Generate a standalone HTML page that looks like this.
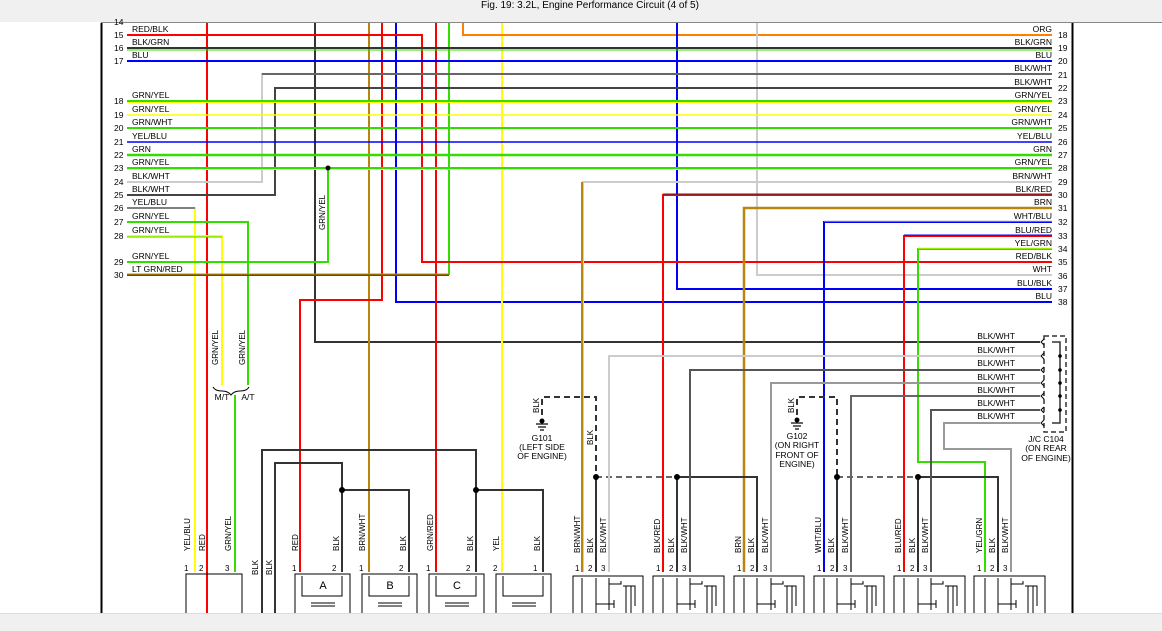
<!DOCTYPE html>
<html><head><meta charset="utf-8"><style>
html,body{margin:0;padding:0;background:#fff;}
svg{display:block;font-family:"Liberation Sans",sans-serif;}
</style></head><body>
<svg width="1162" height="631" viewBox="0 0 1162 631" xmlns="http://www.w3.org/2000/svg">
<rect x="0" y="0" width="1162" height="631" fill="#fff"/>
<rect x="0" y="0" width="1162" height="22" fill="#f0f0f0"/>
<line x1="101" y1="22.5" x2="1162" y2="22.5" stroke="#888" stroke-width="1"/>
<text x="590" y="8" font-size="10" text-anchor="middle" fill="#000">Fig. 19: 3.2L, Engine Performance Circuit (4 of 5)</text>
<line x1="101.5" y1="23" x2="101.5" y2="613" stroke="#000" stroke-width="2"/>
<line x1="1072.5" y1="23" x2="1072.5" y2="613" stroke="#000" stroke-width="2"/>

<g fill="none" stroke-width="2">
<polyline points="207,23 207,613" stroke="#f00"/>
<polyline points="315,23 315,342 1040,342" stroke="#333"/>
<polyline points="369,23 369,572" stroke="#b8860b"/>
<polyline points="382,23 382,300 300,300 300,572" stroke="#f00"/>
<polyline points="396,23 396,302 1052,302" stroke="#00f"/>
<polyline points="436,23 436,572" stroke="#f00"/>
<polyline points="449,23 449,275" stroke="#33dd00"/>
<polyline points="502,23 502,572" stroke="#ff0"/>
<polyline points="463,23 463,35 1052,35" stroke="#ff8000"/>
<polyline points="677,23 677,289 1052,289" stroke="#00f"/>
<polyline points="757,23 757,275 1052,275" stroke="#ccc"/>

<polyline points="127,35 422,35 422,262 1052,262" stroke="#f00"/>
<line x1="127" y1="48" x2="1052" y2="48" stroke="#333"/>
<line x1="127" y1="50" x2="1052" y2="50" stroke="#33dd00" stroke-width="1"/>
<line x1="127" y1="61" x2="1052" y2="61" stroke="#00f"/>
<polyline points="127,182 262,182 262,74 1052,74" stroke="#ccc"/>
<polyline points="262,74 1052,74" stroke="#444" stroke-width="1.5"/>
<polyline points="127,195 275,195 275,88 1052,88" stroke="#444"/>
<line x1="127" y1="101" x2="1052" y2="101" stroke="#33dd00"/>
<line x1="127" y1="102.5" x2="1052" y2="102.5" stroke="#ff0" stroke-width="1"/>
<line x1="127" y1="115" x2="1052" y2="115" stroke="#ff0" stroke-width="1.5"/>
<line x1="127" y1="128" x2="1052" y2="128" stroke="#33dd00"/>
<line x1="127" y1="142" x2="1052" y2="142" stroke="#00f" stroke-width="1.5"/>
<line x1="127" y1="155" x2="1052" y2="155" stroke="#33dd00" stroke-width="2.5"/>
<line x1="127" y1="168" x2="1052" y2="168" stroke="#33dd00"/>
<line x1="127" y1="169.5" x2="1052" y2="169.5" stroke="#ff0" stroke-width="1"/>
<polyline points="583,572 583,182 1052,182" stroke="#ccc"/>
<polyline points="582,182 582,572" stroke="#b8860b"/>
<polyline points="663,572 663,195 1052,195" stroke="#f00"/>
<line x1="663" y1="194" x2="1052" y2="194" stroke="#333" stroke-width="1"/>
<polyline points="744,572 744,208 1052,208" stroke="#b8860b" stroke-width="2.5"/>
<polyline points="824,572 824,222 1052,222" stroke="#00f"/>
<line x1="824" y1="221" x2="1052" y2="221" stroke="#ccc" stroke-width="1"/>
<polyline points="904,572 904,236 1052,236" stroke="#f00"/>
<line x1="904" y1="235" x2="1052" y2="235" stroke="#00f" stroke-width="1"/>
<polyline points="985,572 985,462 918,462 918,249 1052,249" stroke="#33dd00"/>
<line x1="918" y1="248" x2="1052" y2="248" stroke="#ff0" stroke-width="1"/>
<polyline points="127,208 195,208 195,572" stroke="#ff0"/>
<line x1="127" y1="208" x2="195" y2="208" stroke="#00f" stroke-width="1"/>
<polyline points="127,222 248,222 248,385" stroke="#33dd00"/>
<polyline points="127,236 222,236 222,385" stroke="#ff0"/>
<line x1="127" y1="237" x2="222" y2="237" stroke="#33dd00" stroke-width="1"/>
<polyline points="127,262 328,262 328,170" stroke="#33dd00"/>
<line x1="127" y1="275" x2="449" y2="275" stroke="#f00"/>
<line x1="127" y1="274" x2="449" y2="274" stroke="#33dd00" stroke-width="1"/>
<polyline points="235,395 235,572" stroke="#33dd00"/>

<polyline points="262,613 262,450 476,450 476,572" stroke="#333"/>
<polyline points="275,613 275,463 342,463 342,572" stroke="#333"/>
<polyline points="342,490 409,490 409,572" stroke="#333"/>
<polyline points="476,490 543,490 543,572" stroke="#333"/>

<polyline points="596,477 596,572" stroke="#333"/>
<polyline points="677,477 677,572" stroke="#333"/>
<polyline points="677,477 757,477 757,572" stroke="#333"/>
<polyline points="837,477 837,572" stroke="#333"/>
<polyline points="918,477 918,572" stroke="#333"/>
<polyline points="918,477 998,477 998,572" stroke="#333"/>
<polyline points="542,415 542,397 596,397 596,477" stroke="#333" stroke-dasharray="6,4"/>
<polyline points="797,415 797,397 837,397 837,477" stroke="#333" stroke-dasharray="6,4"/>
<line x1="596" y1="477" x2="677" y2="477" stroke="#333" stroke-dasharray="6,4" stroke-width="1.5"/>
<line x1="837" y1="477" x2="918" y2="477" stroke="#333" stroke-dasharray="6,4" stroke-width="1.5"/>
<polyline points="609,572 609,356 1040,356" stroke="#ccc"/>
<polyline points="690,572 690,370 1040,370" stroke="#555"/>
<polyline points="771,572 771,383 1040,383" stroke="#999"/>
<polyline points="851,572 851,396 1040,396" stroke="#666"/>
<polyline points="931,572 931,410 1040,410" stroke="#555"/>
<polyline points="1011,572 1011,449 944,449 944,423 1040,423" stroke="#999"/>
<rect x="1044" y="336" width="22" height="96" stroke="#333" stroke-width="1.5" stroke-dasharray="5,3"/>
<polyline points="1052,342 1060,342 1060,423 1052,423" stroke="#333" stroke-width="1.5"/>
</g>
<g fill="none" stroke="#000" stroke-width="1">
<path d="M1044,339 l-3,3 l3,3 M1044,353 l-3,3 l3,3 M1044,367 l-3,3 l3,3 M1044,380 l-3,3 l3,3 M1044,393 l-3,3 l3,3 M1044,407 l-3,3 l3,3 M1044,420 l-3,3 l3,3"/>
<path d="M213,387 q2,4 9,4 q6,0 9,4 q3,-4 9,-4 q7,0 9,-4"/>
</g>
<g fill="#000">
<circle cx="328" cy="168" r="2.5"/><circle cx="342" cy="490" r="3"/><circle cx="476" cy="490" r="3"/>
<circle cx="596" cy="477" r="3"/><circle cx="677" cy="477" r="3"/><circle cx="837" cy="477" r="3"/><circle cx="918" cy="477" r="3"/>
<circle cx="1060" cy="356" r="1.8"/><circle cx="1060" cy="370" r="1.8"/><circle cx="1060" cy="383" r="1.8"/><circle cx="1060" cy="396" r="1.8"/><circle cx="1060" cy="410" r="1.8"/>
</g>
<g stroke="#000" stroke-width="1.2">
<line x1="536" y1="424" x2="548" y2="424"/><line x1="538" y1="427" x2="546" y2="427"/><line x1="540" y1="430" x2="544" y2="430"/>
<line x1="791" y1="423" x2="803" y2="423"/><line x1="793" y1="426" x2="801" y2="426"/><line x1="795" y1="429" x2="799" y2="429"/>
</g>
<circle cx="542" cy="421" r="2.5"/><circle cx="797" cy="420" r="2.5"/>

<g fill="none" stroke="#000" stroke-width="1">
<rect x="186" y="574" width="56" height="45"/>
<rect x="295" y="574" width="55" height="45"/><rect x="362" y="574" width="55" height="45"/>
<rect x="429" y="574" width="55" height="45"/><rect x="496" y="574" width="55" height="45"/>
<rect x="573" y="576" width="70" height="40"/><rect x="653" y="576" width="71" height="40"/>
<rect x="734" y="576" width="70" height="40"/><rect x="814" y="576" width="70" height="40"/>
<rect x="894" y="576" width="71" height="40"/><rect x="974" y="576" width="71" height="40"/>
<path d="M302,576 v20 h40 v-20 M369,576 v20 h40 v-20 M436,576 v20 h40 v-20 M503,576 v20 h40 v-20"/>
<path d="M311,603 h24 M311,606 h24 M378,603 h24 M378,606 h24 M445,603 h24 M445,606 h24 M512,603 h24 M512,606 h24"/>
</g>
<g font-size="11" text-anchor="middle"><text x="323" y="589">A</text><text x="390" y="589">B</text><text x="457" y="589">C</text></g>
<g fill="none" stroke="#000" stroke-width="1">
<path d="M582,578 v35 M596,578 v35 M609,578 v6 h12 v-3 M609,584 v26 M596,604 h18 M614,600 v8 M623,586 h12 v20 M626,586 v27 M631,586 v27"/>
<path d="M663,578 v35 M677,578 v35 M690,578 v6 h12 v-3 M690,584 v26 M677,604 h18 M695,600 v8 M704,586 h12 v20 M707,586 v27 M712,586 v27"/>
<path d="M744,578 v35 M757,578 v35 M771,578 v6 h12 v-3 M771,584 v26 M757,604 h18 M775,600 v8 M784,586 h12 v20 M787,586 v27 M792,586 v27"/>
<path d="M824,578 v35 M837,578 v35 M851,578 v6 h12 v-3 M851,584 v26 M837,604 h18 M855,600 v8 M864,586 h12 v20 M867,586 v27 M872,586 v27"/>
<path d="M904,578 v35 M918,578 v35 M931,578 v6 h12 v-3 M931,584 v26 M918,604 h18 M936,600 v8 M945,586 h12 v20 M948,586 v27 M953,586 v27"/>
<path d="M985,578 v35 M998,578 v35 M1011,578 v6 h12 v-3 M1011,584 v26 M998,604 h18 M1016,600 v8 M1025,586 h12 v20 M1028,586 v27 M1033,586 v27"/>
</g>

<g font-size="8.5" fill="#000">
<text x="114" y="25">14</text>
<text x="114" y="38">15</text><text x="114" y="51">16</text><text x="114" y="64">17</text>
<text x="114" y="104">18</text><text x="114" y="118">19</text><text x="114" y="131">20</text><text x="114" y="145">21</text>
<text x="114" y="158">22</text><text x="114" y="171">23</text><text x="114" y="185">24</text><text x="114" y="198">25</text>
<text x="114" y="211">26</text><text x="114" y="225">27</text><text x="114" y="239">28</text><text x="114" y="265">29</text><text x="114" y="278">30</text>
<text x="132" y="32">RED/BLK</text><text x="132" y="45">BLK/GRN</text><text x="132" y="58">BLU</text>
<text x="132" y="98">GRN/YEL</text><text x="132" y="112">GRN/YEL</text><text x="132" y="125">GRN/WHT</text><text x="132" y="139">YEL/BLU</text>
<text x="132" y="152">GRN</text><text x="132" y="165">GRN/YEL</text><text x="132" y="179">BLK/WHT</text><text x="132" y="192">BLK/WHT</text>
<text x="132" y="205">YEL/BLU</text><text x="132" y="219">GRN/YEL</text><text x="132" y="233">GRN/YEL</text><text x="132" y="259">GRN/YEL</text><text x="132" y="272">LT GRN/RED</text>
</g>
<g font-size="8.5" fill="#000">
<g text-anchor="end">
<text x="1052" y="32">ORG</text><text x="1052" y="45">BLK/GRN</text><text x="1052" y="58">BLU</text><text x="1052" y="71">BLK/WHT</text>
<text x="1052" y="85">BLK/WHT</text><text x="1052" y="98">GRN/YEL</text><text x="1052" y="112">GRN/YEL</text><text x="1052" y="125">GRN/WHT</text>
<text x="1052" y="139">YEL/BLU</text><text x="1052" y="152">GRN</text><text x="1052" y="165">GRN/YEL</text><text x="1052" y="179">BRN/WHT</text>
<text x="1052" y="192">BLK/RED</text><text x="1052" y="205">BRN</text><text x="1052" y="219">WHT/BLU</text><text x="1052" y="233">BLU/RED</text>
<text x="1052" y="246">YEL/GRN</text><text x="1052" y="259">RED/BLK</text><text x="1052" y="272">WHT</text><text x="1052" y="286">BLU/BLK</text><text x="1052" y="299">BLU</text>
<text x="1015" y="339">BLK/WHT</text><text x="1015" y="353">BLK/WHT</text><text x="1015" y="366">BLK/WHT</text><text x="1015" y="380">BLK/WHT</text>
<text x="1015" y="393">BLK/WHT</text><text x="1015" y="406">BLK/WHT</text><text x="1015" y="419">BLK/WHT</text>
</g>
<text x="1058" y="38">18</text><text x="1058" y="51">19</text><text x="1058" y="64">20</text><text x="1058" y="78">21</text><text x="1058" y="91">22</text>
<text x="1058" y="104">23</text><text x="1058" y="118">24</text><text x="1058" y="131">25</text><text x="1058" y="145">26</text><text x="1058" y="158">27</text>
<text x="1058" y="171">28</text><text x="1058" y="185">29</text><text x="1058" y="198">30</text><text x="1058" y="211">31</text><text x="1058" y="225">32</text>
<text x="1058" y="239">33</text><text x="1058" y="252">34</text><text x="1058" y="265">35</text><text x="1058" y="279">36</text><text x="1058" y="292">37</text><text x="1058" y="305">38</text>
<g text-anchor="middle">
<text x="1046" y="442">J/C C104</text><text x="1046" y="451">(ON REAR</text><text x="1046" y="461">OF ENGINE)</text>
<text x="542" y="441">G101</text><text x="542" y="450">(LEFT SIDE</text><text x="542" y="459">OF ENGINE)</text>
<text x="797" y="439">G102</text><text x="797" y="448">(ON RIGHT</text><text x="797" y="458">FRONT OF</text><text x="797" y="467">ENGINE)</text>
<text x="222" y="400">M/T</text><text x="248" y="400">A/T</text>
</g>
</g>

<g font-size="8" fill="#000">
<g transform="translate(325,230) rotate(-90)"><text>GRN/YEL</text></g>
<g transform="translate(218,365) rotate(-90)"><text>GRN/YEL</text></g>
<g transform="translate(245,365) rotate(-90)"><text>GRN/YEL</text></g>
<g transform="translate(539,413) rotate(-90)"><text>BLK</text></g>
<g transform="translate(593,445) rotate(-90)"><text>BLK</text></g>
<g transform="translate(794,413) rotate(-90)"><text>BLK</text></g>
<g transform="translate(190,551) rotate(-90)"><text>YEL/BLU</text></g>
<g transform="translate(205,551) rotate(-90)"><text>RED</text></g>
<g transform="translate(231,551) rotate(-90)"><text>GRN/YEL</text></g>
<g transform="translate(258,575) rotate(-90)"><text>BLK</text></g>
<g transform="translate(272,575) rotate(-90)"><text>BLK</text></g>
<g transform="translate(298,551) rotate(-90)"><text>RED</text></g>
<g transform="translate(339,551) rotate(-90)"><text>BLK</text></g>
<g transform="translate(365,551) rotate(-90)"><text>BRN/WHT</text></g>
<g transform="translate(406,551) rotate(-90)"><text>BLK</text></g>
<g transform="translate(433,551) rotate(-90)"><text>GRN/RED</text></g>
<g transform="translate(473,551) rotate(-90)"><text>BLK</text></g>
<g transform="translate(499,551) rotate(-90)"><text>YEL</text></g>
<g transform="translate(540,551) rotate(-90)"><text>BLK</text></g>
<g transform="translate(580,553) rotate(-90)"><text>BRN/WHT</text></g><g transform="translate(593,553) rotate(-90)"><text>BLK</text></g><g transform="translate(606,553) rotate(-90)"><text>BLK/WHT</text></g>
<g transform="translate(660,553) rotate(-90)"><text>BLK/RED</text></g><g transform="translate(674,553) rotate(-90)"><text>BLK</text></g><g transform="translate(687,553) rotate(-90)"><text>BLK/WHT</text></g>
<g transform="translate(741,553) rotate(-90)"><text>BRN</text></g><g transform="translate(754,553) rotate(-90)"><text>BLK</text></g><g transform="translate(768,553) rotate(-90)"><text>BLK/WHT</text></g>
<g transform="translate(821,553) rotate(-90)"><text>WHT/BLU</text></g><g transform="translate(834,553) rotate(-90)"><text>BLK</text></g><g transform="translate(848,553) rotate(-90)"><text>BLK/WHT</text></g>
<g transform="translate(901,553) rotate(-90)"><text>BLU/RED</text></g><g transform="translate(915,553) rotate(-90)"><text>BLK</text></g><g transform="translate(928,553) rotate(-90)"><text>BLK/WHT</text></g>
<g transform="translate(982,553) rotate(-90)"><text>YEL/GRN</text></g><g transform="translate(995,553) rotate(-90)"><text>BLK</text></g><g transform="translate(1008,553) rotate(-90)"><text>BLK/WHT</text></g>
</g>
<g font-size="8" fill="#000">
<text x="184" y="571">1</text><text x="199" y="571">2</text><text x="225" y="571">3</text>
<text x="292" y="571">1</text><text x="332" y="571">2</text><text x="359" y="571">1</text><text x="399" y="571">2</text>
<text x="426" y="571">1</text><text x="466" y="571">2</text><text x="493" y="571">2</text><text x="533" y="571">1</text>
<text x="575" y="571">1</text><text x="588" y="571">2</text><text x="601" y="571">3</text>
<text x="656" y="571">1</text><text x="669" y="571">2</text><text x="682" y="571">3</text>
<text x="737" y="571">1</text><text x="750" y="571">2</text><text x="763" y="571">3</text>
<text x="817" y="571">1</text><text x="830" y="571">2</text><text x="843" y="571">3</text>
<text x="897" y="571">1</text><text x="910" y="571">2</text><text x="923" y="571">3</text>
<text x="977" y="571">1</text><text x="990" y="571">2</text><text x="1003" y="571">3</text>
</g>
<rect x="0" y="613" width="1162" height="18" fill="#f0f0f0"/>
<line x1="0" y1="613.5" x2="1162" y2="613.5" stroke="#ddd"/>
</svg>
</body></html>
